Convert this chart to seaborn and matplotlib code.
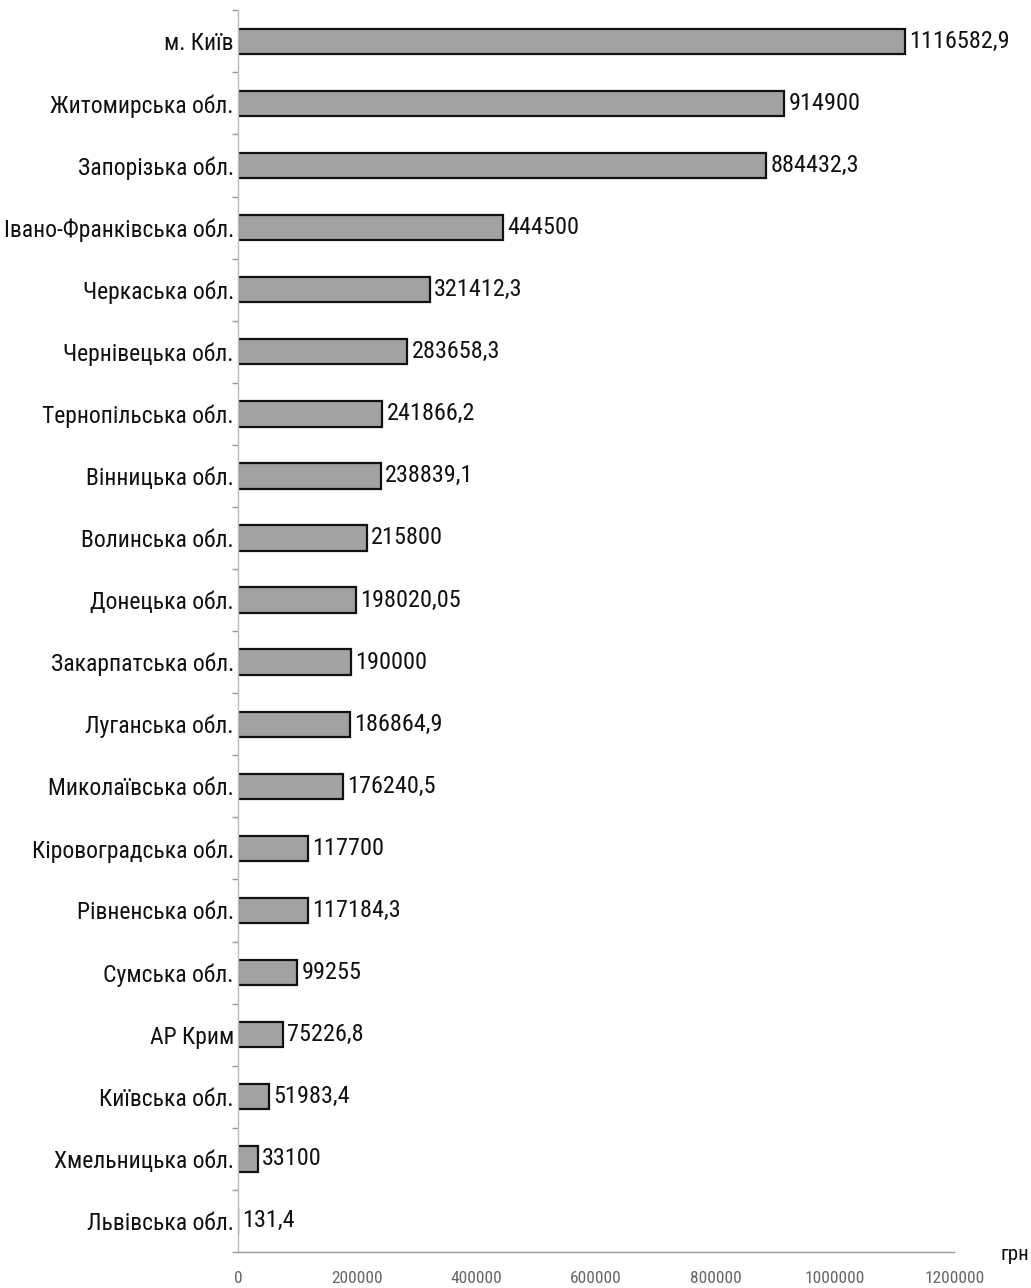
import numpy as np
import pandas as pd
import matplotlib
matplotlib.use("Agg")
import matplotlib.pyplot as plt
import seaborn as sns
from matplotlib import font_manager

# ---- data ----
regions = [
    "м. Київ", "Житомирська обл.", "Запорізька обл.", "Івано-Франківська обл.",
    "Черкаська обл.", "Чернівецька обл.", "Тернопільська обл.", "Вінницька обл.",
    "Волинська обл.", "Донецька обл.", "Закарпатська обл.", "Луганська обл.",
    "Миколаївська обл.", "Кіровоградська обл.", "Рівненська обл.", "Сумська обл.",
    "АР Крим", "Київська обл.", "Хмельницька обл.", "Львівська обл.",
]
amounts = [
    1116582.9, 914900, 884432.3, 444500, 321412.3, 283658.3, 241866.2, 238839.1,
    215800, 198020.05, 190000, 186864.9, 176240.5, 117700, 117184.3, 99255,
    75226.8, 51983.4, 33100, 131.4,
]
x_ticks = [0, 200000, 400000, 600000, 800000, 1000000, 1200000]
unit_label = "грн"

df = pd.DataFrame({"region": regions, "amount": amounts})

# ---- style ----
sns.set_theme(style="white")
names = {f.name for f in font_manager.fontManager.ttflist}
narrow = next((n for n in ["Liberation Sans Narrow", "Roboto Condensed", "PT Sans Narrow",
                           "Liberation Sans"] if n in names), "DejaVu Sans")
plt.rcParams["font.family"] = [narrow, "DejaVu Sans"]

fig = plt.figure(figsize=(10.31, 12.88), dpi=100)
ax = fig.add_axes([0.2308, 0.028, 0.695, 0.964])

sns.barplot(data=df, x="amount", y="region", orient="h", color="#a2a2a2",
            edgecolor="#111111", linewidth=1.6, width=0.41, saturation=1, ax=ax)

labels = []
for v in amounts:
    s = str(v)
    if s.endswith(".0"):
        s = s[:-2]
    labels.append(s.replace(".", ","))
ax.bar_label(ax.containers[0], labels=labels, padding=3, fontsize=17.5, color="#111111")

ax.set_xlim(0, 1200000)
ax.set_ylim(19.43, -0.48)
ax.set_xticks(x_ticks)
ax.set_xticklabels([str(t) for t in x_ticks], fontsize=12.5, color="#666666")
ax.tick_params(axis="x", length=0, pad=14)
ax.tick_params(axis="y", length=0, pad=3, labelsize=17, labelcolor="#111111")

# short marks between categories on the left axis
ax.set_yticks(np.arange(-0.5, len(regions), 1.0), minor=True)
ax.tick_params(axis="y", which="minor", length=4, width=1, color="#999999", left=True)

ax.set_xlabel("")
ax.set_ylabel("")
for side in ["top", "right"]:
    ax.spines[side].set_visible(False)
ax.spines["left"].set_color("#bbbbbb")
ax.spines["bottom"].set_color("#999999")
ax.spines["left"].set_linewidth(1)
ax.spines["bottom"].set_linewidth(1)

fig.text(1015 / 1031, 1 - 1255 / 1288, unit_label, fontsize=15, ha="center", va="center",
         color="#111111")

fig.savefig("out.png", dpi=100, facecolor="white")
